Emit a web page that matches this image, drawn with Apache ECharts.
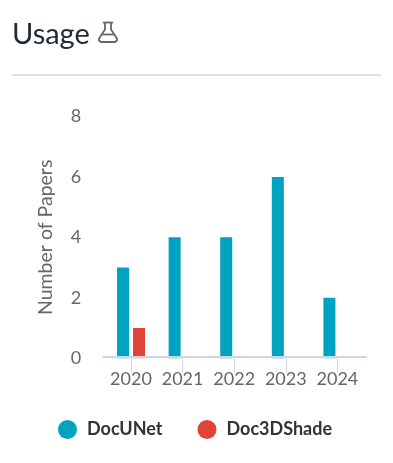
<!DOCTYPE html>
<html>
<head>
<meta charset="utf-8">
<title>Usage</title>
<script src="https://cdn.jsdelivr.net/npm/echarts@6/dist/echarts.min.js"></script>
<style>
  html, body { margin: 0; padding: 0; background: #fff; }
  #chart { width: 393px; height: 463px; }
</style>
</head>
<body>
<div id="chart"></div>
<script>
const years = ['2020', '2021', '2022', '2023', '2024'];
const docUNet = [3, 4, 4, 6, 2];
const doc3DShade = [1, 0, 0, 0, 0];
const yTicks = [0, 2, 4, 6, 8];

const axisColor = '#ccd6eb';
const labelColor = '#666666';
const iconStyle = { fill: 'none', stroke: '#666666', lineWidth: 1.8 };

const chart = echarts.init(document.getElementById('chart'));

chart.setOption({
  animation: false,
  title: {
    text: 'Usage',
    left: 7,
    top: 15,
    textStyle: { fontFamily: 'Lato', fontSize: 29, fontWeight: 'normal', color: '#212b36' }
  },
  legend: {
    data: ['DocUNet', 'Doc3DShade'],
    left: 53,
    top: 415,
    icon: 'circle',
    itemWidth: 19,
    itemHeight: 19,
    itemGap: 35,
    textStyle: { fontFamily: 'Lato', fontSize: 18, fontWeight: 'bold', color: '#333333', padding: [0, 0, 0, 5] }
  },
  grid: [
    { left: 105.2, right: 29.8, top: 116.5, bottom: 104.8 },
    // wider grid, only there for the baseline that runs past the first and last category
    { left: 103, right: 27, top: 116.5, bottom: 106 }
  ],
  xAxis: [
    {
      type: 'category',
      data: years,
      axisLine: { show: false },
      axisTick: { show: true, alignWithLabel: true, length: 14, lineStyle: { color: axisColor } },
      axisLabel: { interval: 0, fontFamily: 'Lato', fontSize: 18, color: labelColor, margin: 12 }
    },
    {
      type: 'category',
      gridIndex: 1,
      z: 3,
      data: years,
      axisLine: { lineStyle: { color: axisColor, width: 2 } },
      axisTick: { show: false },
      axisLabel: { show: false }
    }
  ],
  yAxis: [
    {
      type: 'value',
      min: yTicks[0],
      max: yTicks[yTicks.length - 1],
      interval: 2,
      name: 'Number of Papers',
      nameLocation: 'middle',
      nameGap: 49,
      nameTextStyle: { fontFamily: 'Lato', fontSize: 19.5, color: labelColor },
      axisLine: { show: false },
      axisTick: { show: false },
      splitLine: { show: false },
      axisLabel: { fontFamily: 'Lato', fontSize: 18, color: labelColor, margin: 24, padding: [0, 0, 3, 0] }
    },
    { type: 'value', gridIndex: 1, show: false }
  ],
  series: [
    {
      name: 'DocUNet',
      type: 'bar',
      data: docUNet,
      barWidth: 12,
      barGap: '33%',
      itemStyle: { color: '#00a3bf' }
    },
    {
      name: 'Doc3DShade',
      type: 'bar',
      data: doc3DShade,
      barWidth: 12,
      itemStyle: { color: '#e04438' }
    }
  ],
  graphic: [
    {
      type: 'line',
      shape: { x1: 12, y1: 75, x2: 381, y2: 75 },
      style: { stroke: '#e0e0e0', lineWidth: 2 }
    },
    // flask icon next to the heading
    {
      type: 'group',
      x: 98,
      y: 21.5,
      children: [
        { type: 'line', shape: { x1: 5, y1: 1, x2: 15, y2: 1 }, style: iconStyle },
        {
          type: 'polyline',
          shape: { points: [[7, 1], [7, 8], [1, 17], [1, 19], [3, 20.5], [17, 20.5], [19, 19], [19, 17], [13, 8], [13, 1]] },
          style: iconStyle
        },
        { type: 'line', shape: { x1: 4, y1: 13, x2: 16, y2: 13 }, style: iconStyle }
      ]
    }
  ]
});
</script>
</body>
</html>
